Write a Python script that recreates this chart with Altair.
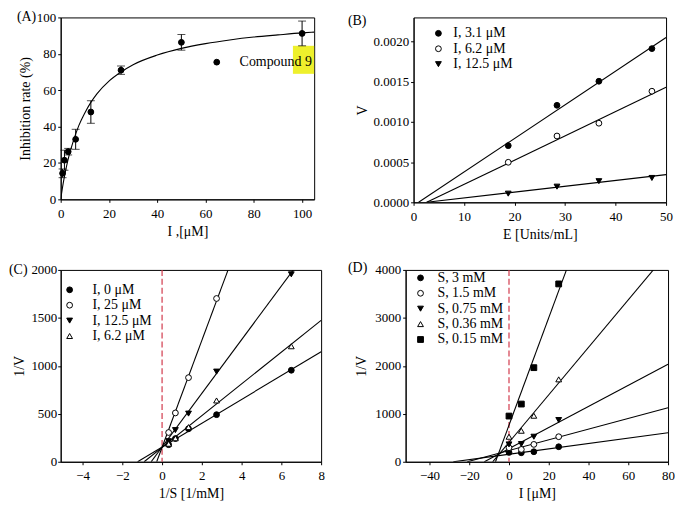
import altair as alt
import pandas as pd

FONT = "Liberation Serif"

# ---------------- Panel A data ----------------
a_x = [0.78, 1.56, 3.1, 6.2, 12.5, 25, 50, 100]
a_y = [14.3, 21.5, 26.2, 33.0, 48.0, 71.0, 86.3, 91.2]
a_err = [2.4, 5.5, 1.8, 5.5, 6.2, 2.3, 4.3, 6.8]
a_fit_x = [0, 1, 2, 3, 5, 7.5, 10, 12.5, 15, 20, 25, 30, 40, 50, 60, 70, 80, 90, 100, 105]
a_fit_y = [0, 8.5, 15.5, 21.5, 31, 40.5, 47.5, 53.3, 58, 65, 70, 74, 79.3, 83, 85.6, 87.6, 89.2, 90.4, 91.5, 91.9]
a_series = ["Compound 9"]
a_box_x = [96.2, 105]
a_box_y = [69.0, 84.4]

# ---------------- Panel B data ----------------
b_series = ["I, 3.1 μM", "I, 6.2 μM", "I, 12.5 μM"]
b_E = [18.75, 28.4, 36.7, 47.2]
b_v31 = [0.000705, 0.001207, 0.001506, 0.001912]
b_v62 = [0.000498, 0.000825, 0.000984, 0.001382]
b_v125 = [0.000108, 0.000195, 0.000263, 0.000303]
b_line_x = [[1.0, 50], [2.6, 50], [2.6, 50]]
b_line_y = [[0, 0.00205], [0, 0.00143], [0, 0.000345]]

# ---------------- Panel C data ----------------
c_series = ["I, 0 μM", "I, 25 μM", "I, 12.5 μM", "I, 6.2 μM"]
c_invS = [0.33, 0.67, 1.33, 2.74, 6.5]
c_i0 = [178, 242, 344, 491, 954]
c_i25 = [305, 509, 877, 1702]
c_i125 = [215, 330, 502, 940, 1954]
c_i62 = [188, 245, 361, 639, 1204]
c_line_x = [[-1.23, 8], [-0.27, 3.32], [-0.55, 6.6], [-0.9, 8]]
c_line_y = [[0, 1147], [0, 2000], [0, 2000], [0, 1474]]

# ---------------- Panel D data ----------------
d_series = ["S, 3 mM", "S, 1.5 mM", "S, 0.75 mM", "S, 0.36 mM", "S, 0.15 mM"]
d_I = [0, 6.2, 12.5, 25]
d_s3 = [195, 188, 209, 313]
d_s15 = [292, 257, 362, 522]
d_s075 = [362, 369, 522, 870]
d_s036 = [522, 647, 960, 1718]
d_s015 = [953, 1203, 1962, 3708]
d_line_x = [[-28, 80], [-21, 80], [-12.4, 80], [-8.2, 72.6], [-6.8, 28.9]]
d_line_y = [[0, 605], [0, 1127], [0, 2031], [0, 4000], [0, 4000]]

RED = "#d23a4c"


def long_points(series, xs_list, ys_list):
    rows = []
    for s, xs, ys in zip(series, xs_list, ys_list):
        for xv, yv in zip(xs, ys):
            rows.append({"series": s, "x": xv, "y": yv})
    return pd.DataFrame(rows)


def long_lines(series, lx, ly):
    rows = []
    for s, xs, ys in zip(series, lx, ly):
        for i, (xv, yv) in enumerate(zip(xs, ys)):
            rows.append({"series": s, "x": xv, "y": yv, "o": i})
    return pd.DataFrame(rows)


class Enc:
    def __init__(self, xdom, ydom, xvals, yvals, xtitle, ytitle, yfmt="d", ytpad=6, ylpad=2):
        self.xs = alt.Scale(domain=xdom, nice=False, zero=False)
        self.ys = alt.Scale(domain=ydom, nice=False, zero=False)
        self.xa = alt.Axis(values=xvals, title=xtitle, labelPadding=5, titlePadding=4,
                           labelOverlap=False)
        self.ya = alt.Axis(values=yvals, title=ytitle, format=yfmt, titlePadding=ytpad,
                           labelPadding=ylpad, labelOverlap=False)

    def X(self, f="x"):
        return alt.X(f"{f}:Q", scale=self.xs, axis=self.xa)

    def Y(self, f="y"):
        return alt.Y(f"{f}:Q", scale=self.ys, axis=self.ya)


def point_layer(df, E, names, shapes, fills, lx, ly, loff, rowpad=1.5, size=34):
    leg = alt.Legend(orient="none", legendX=lx, legendY=ly, title=None,
                     labelFont=FONT, labelFontSize=14, labelColor="black",
                     symbolSize=size, symbolStrokeWidth=1,
                     symbolOpacity=1, rowPadding=rowpad, labelOffset=loff, padding=0)
    n = len(names)
    return alt.Chart(df).mark_point(strokeWidth=1, opacity=1, fillOpacity=1, size=size).encode(
        x=E.X(), y=E.Y(),
        shape=alt.Shape("series:N", scale=alt.Scale(domain=names, range=shapes), legend=leg),
        fill=alt.Fill("series:N", scale=alt.Scale(domain=names, range=fills), legend=leg),
        stroke=alt.Stroke("series:N", scale=alt.Scale(domain=names, range=["black"] * n), legend=leg),
    )


def line_layer(df, E):
    return alt.Chart(df).mark_line(color="black", strokeWidth=1.1, clip=True).encode(
        x=E.X(), y=E.Y(), detail="series:N", order="o:Q")


def label_layer(txt, lx, ly):
    return alt.Chart(pd.DataFrame({"t": [txt]})).mark_text(
        font=FONT, fontSize=14, align="left", baseline="middle", color="black"
    ).encode(text="t:N", x=alt.value(lx), y=alt.value(ly))


def red_rule(E):
    return alt.Chart(pd.DataFrame({"x": [0]})).mark_rule(
        color=RED, strokeDash=[6, 3], strokeWidth=1.2).encode(x=E.X())


# ---------------- Panel A ----------------
WA, HA = 255, 183
EA = Enc([0, 105], [0, 100], [0, 20, 40, 60, 80, 100], [0, 20, 40, 60, 80, 100],
         "I ,[μM]", "Inhibition rate (%)", ytpad=4)
dfA = pd.DataFrame({"series": a_series * len(a_x), "x": a_x, "y": a_y,
                    "lo": [v - e for v, e in zip(a_y, a_err)],
                    "hi": [v + e for v, e in zip(a_y, a_err)]})
dfA_fit = pd.DataFrame({"x": a_fit_x, "y": a_fit_y})
dfA_box = pd.DataFrame({"x": [a_box_x[0]], "x2": [a_box_x[1]], "y": [a_box_y[1]], "y2": [a_box_y[0]]})
highlight = alt.Chart(dfA_box).mark_rect(color="#eef02c", opacity=1).encode(
    x=EA.X(), x2="x2:Q", y=EA.Y(), y2="y2:Q")
fitA = alt.Chart(dfA_fit).mark_line(color="black", strokeWidth=1.1, interpolate="monotone",
                                    clip=True).encode(x=EA.X(), y=EA.Y())
errA = alt.Chart(dfA).mark_rule(color="black", strokeWidth=1).encode(x=EA.X(), y=EA.Y("lo"), y2="hi:Q")
capLo = alt.Chart(dfA).mark_tick(color="black", orient="horizontal", size=8, thickness=1).encode(
    x=EA.X(), y=EA.Y("lo"))
capHi = alt.Chart(dfA).mark_tick(color="black", orient="horizontal", size=8, thickness=1).encode(
    x=EA.X(), y=EA.Y("hi"))
ptsA = point_layer(dfA, EA, a_series, ["circle"], ["black"], 150, 38, 16)
# invisible spacer that widens the gap between panel A and panel B
spacerA = alt.Chart(pd.DataFrame({"t": [0]})).mark_rule(strokeOpacity=0).encode(
    x=alt.value(WA), x2=alt.value(WA + 14), y=alt.value(20))
panelA = alt.layer(highlight, fitA, errA, capLo, capHi, ptsA, spacerA,
                   label_layer("(A)", -44, 0)).properties(width=WA, height=HA)

# ---------------- Panel B ----------------
EB = Enc([0, 50], [0, 0.0023], [0, 10, 20, 30, 40, 50], [0, 0.0005, 0.001, 0.0015, 0.002],
         "E [Units/mL]", "V", yfmt=".4f", ytpad=4)
dfB = long_points(b_series, [b_E] * 3, [b_v31, b_v62, b_v125])
dfB_l = long_lines(b_series, b_line_x, b_line_y)
ptsB = point_layer(dfB, EB, b_series, ["circle", "circle", "triangle-down"],
                   ["black", "white", "black"], 18, 9, 8)
panelB = alt.layer(line_layer(dfB_l, EB), ptsB, label_layer("(B)", -66, 4)).properties(width=254, height=186)

# ---------------- Panel C ----------------
EC = Enc([-5.1, 8], [0, 2000], [-4, -2, 0, 2, 4, 6, 8], [0, 500, 1000, 1500, 2000],
         "1/S [1/mM]", "1/V", ytpad=4, ylpad=1)
dfC = long_points(c_series, [c_invS, c_invS[:4], c_invS, c_invS], [c_i0, c_i25, c_i125, c_i62])
dfC_l = long_lines(c_series, c_line_x, c_line_y)
ptsC = point_layer(dfC, EC, c_series, ["circle", "circle", "triangle-down", "triangle-up"],
                   ["black", "white", "black", "white"], 2, 13, 16)
panelC = alt.layer(red_rule(EC), line_layer(dfC_l, EC), ptsC,
                   label_layer("(C)", -52, 0)).properties(width=262, height=193)

# ---------------- Panel D ----------------
ED = Enc([-52, 80], [0, 4000], [-40, -20, 0, 20, 40, 60, 80], [0, 1000, 2000, 3000, 4000],
         "I [μM]", "1/V", ytpad=6)
dfD = long_points(d_series, [d_I] * 5, [d_s3, d_s15, d_s075, d_s036, d_s015])
dfD_l = long_lines(d_series, d_line_x, d_line_y)
ptsD = point_layer(dfD, ED, d_series,
                   ["circle", "circle", "triangle-down", "triangle-up", "square"],
                   ["black", "white", "black", "white", "black"], 8, 1, 10, rowpad=1.5)
panelD = alt.layer(red_rule(ED), line_layer(dfD_l, ED), ptsD,
                   label_layer("(D)", -58, -2)).properties(width=264, height=193)


chart = alt.concat(panelA, panelB, panelC, panelD, columns=2,
                   spacing={"row": 18, "column": 18},
                   align={"row": "each", "column": "none"}).resolve_scale(
    shape="independent", fill="independent", stroke="independent"
).resolve_legend(
    shape="independent", fill="independent", stroke="independent"
).properties(padding=0).configure_view(
    stroke="black", strokeWidth=1
).configure_axis(
    labelFont=FONT, titleFont=FONT, labelFontSize=13, titleFontSize=14,
    titleFontWeight="normal", labelColor="black", titleColor="black",
    domainColor="black", tickColor="black", tickSize=3, grid=False,
    labelPadding=2, labelFlush=False
)

chart.save("out.html", embed_options={"renderer": "svg", "actions": False})
